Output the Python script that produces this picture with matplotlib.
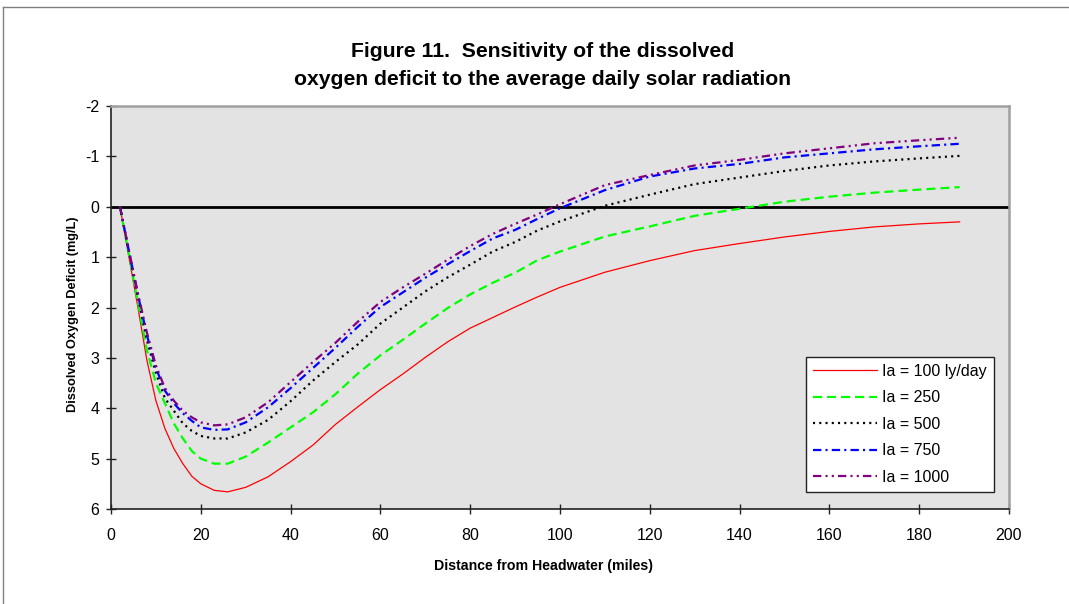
import matplotlib
matplotlib.use("Agg")
import matplotlib.pyplot as plt
from matplotlib.lines import Line2D

plt.rcParams['font.family'] = ['Liberation Sans', 'DejaVu Sans']
plt.rcParams['lines.scale_dashes'] = False
plt.rcParams['axes.unicode_minus'] = False

distance = [2, 4, 6, 8, 10, 12, 14, 16, 18, 20, 23, 26, 30, 35, 40, 45, 50, 55, 60, 65,
            70, 75, 80, 85, 90, 95, 100, 110, 120, 130, 140, 150, 160, 170, 180, 189]

ia_100 = [0, 1.0, 2.0, 3.05, 3.85, 4.4, 4.8, 5.1, 5.35, 5.5, 5.63, 5.66, 5.57, 5.36, 5.06, 4.73,
          4.32, 3.97, 3.63, 3.32, 2.99, 2.68, 2.41, 2.20, 1.99, 1.79, 1.60, 1.30, 1.07, 0.87,
          0.73, 0.60, 0.49, 0.40, 0.34, 0.30]
ia_250 = [0, 0.95, 1.9, 2.85, 3.5, 3.9, 4.3, 4.6, 4.85, 5.0, 5.1, 5.1, 4.96, 4.68, 4.38, 4.08,
          3.72, 3.31, 2.95, 2.64, 2.32, 2.01, 1.74, 1.51, 1.31, 1.06, 0.89, 0.59, 0.39, 0.18,
          0.04, -0.10, -0.20, -0.28, -0.34, -0.39]
ia_500 = [0, 0.9, 1.8, 2.65, 3.3, 3.8, 4.05, 4.3, 4.45, 4.55, 4.6, 4.6, 4.48, 4.23, 3.86, 3.45,
          3.08, 2.73, 2.32, 2.0, 1.68, 1.40, 1.15, 0.89, 0.70, 0.47, 0.29, -0.02, -0.24, -0.45,
          -0.58, -0.71, -0.82, -0.90, -0.96, -1.01]
ia_750 = [0, 0.88, 1.75, 2.55, 3.2, 3.65, 3.9, 4.1, 4.25, 4.38, 4.43, 4.42, 4.28, 3.98, 3.6, 3.2,
          2.8, 2.38, 1.99, 1.70, 1.41, 1.14, 0.88, 0.63, 0.46, 0.24, 0.03, -0.33, -0.60, -0.76,
          -0.85, -0.98, -1.06, -1.14, -1.20, -1.25]
ia_1000 = [0, 0.87, 1.72, 2.5, 3.15, 3.6, 3.85, 4.05, 4.18, 4.28, 4.34, 4.32, 4.18, 3.88, 3.48,
           3.08, 2.7, 2.28, 1.89, 1.60, 1.33, 1.05, 0.78, 0.54, 0.34, 0.15, -0.05, -0.43, -0.63,
           -0.82, -0.93, -1.06, -1.16, -1.26, -1.32, -1.37]

labels = ['Ia = 100 ly/day', 'Ia = 250', 'Ia = 500', 'Ia = 750', 'Ia = 1000']
x_ticks = [0, 20, 40, 60, 80, 100, 120, 140, 160, 180, 200]
y_ticks = [-2, -1, 0, 1, 2, 3, 4, 5, 6]

fig = plt.figure(figsize=(10.69, 6.04), dpi=100)
ax = fig.add_axes([111/1069, 1-509/604, (1009-111)/1069, (509-106)/604])
ax.set_facecolor('#E3E3E3')

ax.axhline(0, color='black', lw=2.0, zorder=2)

ax.plot(distance, ia_100, color='#FF0000', lw=0.9, label=labels[0], zorder=3)
ax.plot(distance, ia_250, color='#00FF00', lw=1.6, dashes=(6.5, 3.6), label=labels[1], zorder=3)
ax.plot(distance, ia_500, color='black', lw=1.6, dashes=(1.5, 3.0), label=labels[2], zorder=3)
ax.plot(distance, ia_750, color='#0000FF', lw=1.6, dashes=(6, 3, 1.5, 3), label=labels[3], zorder=3)
ax.plot(distance, ia_1000, color='#800080', lw=1.6, dashes=(6, 3, 1.5, 3, 1.5, 3), label=labels[4], zorder=3)

ax.set_xlim(0, 200)
ax.set_ylim(6, -2)
ax.set_xticks(x_ticks)
ax.set_yticks(y_ticks)
ax.tick_params(axis='both', direction='inout', length=7, width=1, labelsize=11.5, color='#222222')
ax.tick_params(axis='x', pad=10)
ax.tick_params(axis='y', pad=5)

for s in ['top', 'right']:
    ax.spines[s].set_color('#A0A0A0')
    ax.spines[s].set_linewidth(1.8)
for s in ['left', 'bottom']:
    ax.spines[s].set_color('#222222')
    ax.spines[s].set_linewidth(1.2)

fig.text(543/1069, 1-566/604, 'Distance from Headwater (miles)', ha='center', va='center',
         fontsize=10.2, fontweight='bold')
fig.text(73/1069, 1-314/604, 'Dissolved Oxygen Deficit (mg/L)', ha='center', va='center',
         rotation=90, fontsize=9.2, fontweight='bold')

fig.text(543/1069, 1-65.5/604, 'Figure 11.  Sensitivity of the dissolved\noxygen deficit to the average daily solar radiation',
         ha='center', va='center', fontsize=15.2, fontweight='bold', linespacing=1.58)

leg = ax.legend(loc='lower right', bbox_to_anchor=(994/1069, 1-492/604), bbox_transform=fig.transFigure,
                fontsize=11.5, frameon=True, fancybox=False, framealpha=1, edgecolor='#222222',
                handlelength=4.05, handletextpad=0.3, labelspacing=0.72, borderpad=0.45,
                borderaxespad=0)
leg.get_frame().set_linewidth(1.0)

fig.add_artist(Line2D([3/1069, 3/1069], [0, 1-7/604], color='#808080', lw=1.0))
fig.add_artist(Line2D([3/1069, 1], [1-7/604, 1-7/604], color='#808080', lw=1.0))

fig.savefig('out.png', dpi=100)
